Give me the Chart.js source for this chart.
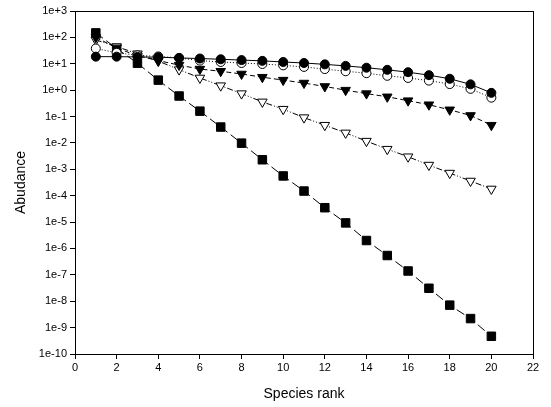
<!DOCTYPE html>
<html>
<head>
<meta charset="utf-8">
<script src="https://cdn.jsdelivr.net/npm/chart.js@4/dist/chart.umd.min.js"></script>
<style>
  html, body { margin: 0; padding: 0; background: #fff; }
  #wrap { width: 551px; height: 407px; }
</style>
</head>
<body>
<div id="wrap"><canvas id="chart" width="551" height="407"></canvas></div>
<script>
// species rank 1..20
const ranks = [1, 2, 3, 4, 5, 6, 7, 8, 9, 10, 11, 12, 13, 14, 15, 16, 17, 18, 19, 20];

// abundance values (log axis)
const filledCircles = [18.6, 18.6, 18.2, 17.8, 16.6, 15.8, 14.8, 13.8, 12.9, 11.7, 10.7, 9.5, 8.3, 7.1, 5.9, 4.8, 3.7, 2.7, 1.66, 0.79];
const openCircles = [38, 26, 21, 19, 16.6, 13.2, 11.7, 10.7, 9.8, 8.7, 7.6, 6.3, 5.2, 4.4, 3.5, 2.9, 2.3, 1.7, 1.12, 0.52];
const filledTriangles = [100, 40, 20, 13.2, 8.9, 6.3, 5.2, 4.1, 3.1, 2.4, 1.86, 1.38, 1.0, 0.74, 0.56, 0.4, 0.28, 0.18, 0.11, 0.047];
const openTriangles = [80, 45, 24, 12.6, 6.0, 2.9, 1.48, 0.74, 0.36, 0.19, 0.091, 0.047, 0.024, 0.0117, 0.0058, 0.003, 0.00145, 7.2e-4, 3.6e-4, 1.8e-4];
const filledSquares = [148, 38, 10.5, 2.4, 0.6, 0.16, 0.04, 0.0098, 0.0023, 5.6e-4, 1.5e-4, 3.5e-5, 9.3e-6, 2.0e-6, 5.4e-7, 1.4e-7, 3.1e-8, 7.1e-9, 2.2e-9, 4.7e-10];

// tick positions
const xTicks = [0, 2, 4, 6, 8, 10, 12, 14, 16, 18, 20, 22];
const yExponents = [3, 2, 1, 0, -1, -2, -3, -4, -5, -6, -7, -8, -9, -10];

const toPoints = (vals) => vals.map((v, i) => ({ x: ranks[i], y: v }));

const series = (vals, style, opts) => Object.assign({
    data: toPoints(vals),
    borderColor: '#000',
    borderWidth: 1,
    pointBorderColor: '#000',
    pointBorderWidth: 1,
    pointStyle: style,
    showLine: true,
    fill: false,
    tension: 0
}, opts);

// box around the plot area (top and right sides)
const frame = {
    id: 'frame',
    afterDraw(chart) {
        const { ctx, chartArea: a } = chart;
        ctx.save();
        ctx.strokeStyle = '#000';
        ctx.lineWidth = 1;
        ctx.strokeRect(Math.round(a.left) + 0.5, Math.round(a.top) + 0.5,
            Math.round(a.right - a.left), Math.round(a.bottom - a.top));
        ctx.restore();
    }
};

Chart.defaults.font.family = 'Liberation Sans, Arial, sans-serif';
Chart.defaults.color = '#000';

const ctx = document.getElementById('chart');
window.myChart = new Chart(ctx, {
    type: 'scatter',
    data: {
        datasets: [
            series(filledCircles, 'circle', { pointRadius: 4.5, pointBackgroundColor: '#000' }),
            series(openCircles, 'circle', { pointRadius: 4.5, pointBackgroundColor: '#fff', borderDash: [1, 2] }),
            series(filledTriangles, 'triangle', { pointRadius: 5.5, pointRotation: 180, pointBackgroundColor: '#000', borderDash: [5, 3] }),
            series(openTriangles, 'triangle', { pointRadius: 5.5, pointRotation: 180, pointBackgroundColor: '#fff', borderDash: [6, 2, 1, 2, 1, 2] }),
            series(filledSquares, 'rect', { pointRadius: 6, pointBackgroundColor: '#000', borderDash: [9, 4] })
        ]
    },
    options: {
        responsive: false,
        animation: false,
        layout: { padding: { top: 11, right: 18, left: 9, bottom: 0 } },
        plugins: {
            legend: { display: false },
            tooltip: { enabled: false }
        },
        scales: {
            x: {
                type: 'linear',
                min: 0,
                max: 22,
                afterBuildTicks: (s) => { s.ticks = xTicks.map(v => ({ value: v })); },
                afterFit: (s) => { s.height = 53; },
                ticks: { font: { size: 11 }, padding: 2, maxRotation: 0 },
                grid: { drawOnChartArea: false, tickLength: 5, color: '#000' },
                border: { color: '#000', width: 1 },
                title: { display: true, text: 'Species rank', font: { size: 14 }, padding: { top: 3 } }
            },
            y: {
                type: 'logarithmic',
                min: 1e-10,
                max: 1e3,
                afterBuildTicks: (s) => { s.ticks = yExponents.map(e => ({ value: Math.pow(10, e) })); },
                afterFit: (s) => { s.width = 66; },
                ticks: {
                    font: { size: 11 },
                    padding: 3,
                    callback: (v) => {
                        const e = Math.round(Math.log10(v));
                        return '1e' + (e >= 0 ? '+' : '') + e;
                    }
                },
                grid: { drawOnChartArea: false, tickLength: 5, color: '#000' },
                border: { color: '#000', width: 1 },
                title: { display: true, text: 'Abudance', font: { size: 14 }, padding: { bottom: 0 } }
            }
        }
    },
    plugins: [frame]
});
</script>
</body>
</html>
